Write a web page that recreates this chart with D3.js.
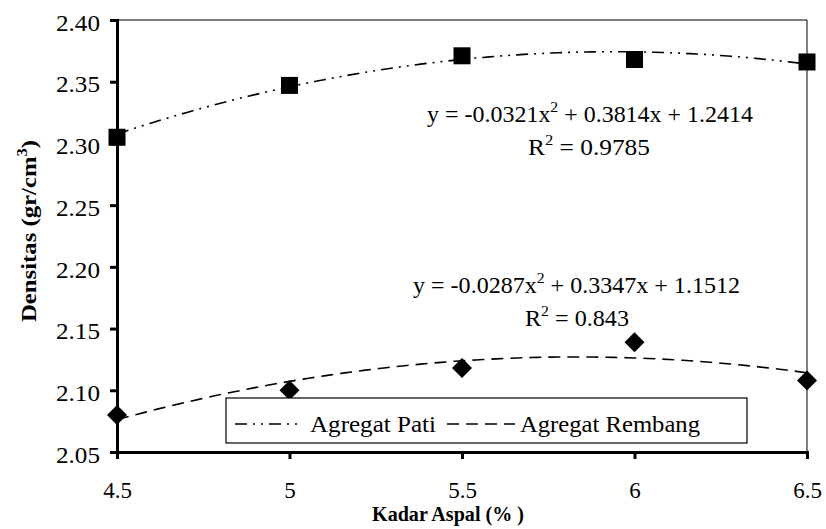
<!DOCTYPE html>
<html><head><meta charset="utf-8">
<script src="https://cdn.jsdelivr.net/npm/d3@7"></script>
<style>body{margin:0;background:#fff}</style>
</head><body><svg id="c" width="826" height="529"></svg>
<script>
const kadar = [4.5, 5, 5.5, 6, 6.5];
const pati = [2.305, 2.347, 2.371, 2.368, 2.366];
const rembang = [2.080, 2.100, 2.118, 2.139, 2.108];
const patiCoef = [-0.0321, 0.3814, 1.2414];
const rembangCoef = [-0.0287, 0.3347, 1.1512];
const yTicks = [2.05, 2.10, 2.15, 2.20, 2.25, 2.30, 2.35, 2.40];
const xTicks = [4.5, 5, 5.5, 6, 6.5];

const FONT = "'Liberation Serif', 'Times New Roman', 'DejaVu Serif', serif";
const svg = d3.select("#c");
const L = 117, R = 807, T = 20, B = 452;
const x = d3.scaleLinear().domain([4.5, 6.5]).range([L, R]);
const y = d3.scaleLinear().domain([2.05, 2.40]).range([B, T]);

svg.append("line").attr("x1", L).attr("x2", R).attr("y1", T).attr("y2", T).attr("stroke", "#000").attr("stroke-width", 1);
svg.append("line").attr("x1", R).attr("x2", R).attr("y1", T).attr("y2", B).attr("stroke", "#000").attr("stroke-width", 1);

const yAxis = svg.append("g").attr("transform", `translate(${L},0)`)
  .call(d3.axisLeft(y).tickValues(yTicks).tickFormat(d3.format(".2f")).tickSize(7).tickPadding(10));
const xAxis = svg.append("g").attr("transform", `translate(0,${B})`)
  .call(d3.axisBottom(x).tickValues(xTicks).tickFormat(d => String(d)).tickSize(7).tickPadding(23));
[yAxis, xAxis].forEach(g => {
  g.attr("font-family", null).style("font-family", FONT);
  g.select(".domain").attr("stroke-width", 3).attr("stroke", "#000");
  g.selectAll(".tick line").attr("stroke-width", 3).attr("stroke", "#000");
  g.selectAll(".tick text").style("font-family", FONT).attr("font-size", 23).attr("fill", "#000");
});
yAxis.selectAll(".tick text").attr("dy", "0.62em").attr("y", -4).attr("textLength", 44).attr("lengthAdjust", "spacingAndGlyphs");

function trend(c) {
  const pts = d3.range(0, 101).map(i => 4.5 + i * 0.02);
  return pts.map(v => [v, c[0] * v * v + c[1] * v + c[2]]);
}
const line = d3.line().x(d => x(d[0])).y(d => y(d[1]));
const dashPati = "12,6,2,6,2,6";
const dashReb = "12,7";
svg.append("path").attr("d", line(trend(patiCoef))).attr("fill", "none").attr("stroke", "#000").attr("stroke-width", 1.6).attr("stroke-dasharray", dashPati);
svg.append("path").attr("d", line(trend(rembangCoef))).attr("fill", "none").attr("stroke", "#000").attr("stroke-width", 1.6).attr("stroke-dasharray", dashReb);

svg.selectAll("rect.pm").data(kadar).enter().append("rect").attr("class", "pm")
  .attr("x", (d) => x(d) - 8.5).attr("y", (d, i) => y(pati[i]) - 8.5).attr("width", 17).attr("height", 17).attr("fill", "#000");
svg.selectAll("path.rm").data(kadar).enter().append("path").attr("class", "rm")
  .attr("transform", (d, i) => `translate(${x(d)},${y(rembang[i])})`)
  .attr("d", "M0,-10L10,0L0,10L-10,0Z").attr("fill", "#000");

function txt(xp, yp, size) {
  return svg.append("text").attr("x", xp).attr("y", yp).attr("font-size", size).attr("fill", "#000").style("font-family", FONT);
}
function eq(xs, xe, yb, a, b, c, r2, rx, rw) {
  const t = txt(xs, yb, 23).attr("textLength", xe - xs).attr("lengthAdjust", "spacingAndGlyphs");
  t.append("tspan").text(`y = ${a}x`);
  t.append("tspan").attr("font-size", 15).attr("dy", -10).text("2");
  t.append("tspan").attr("dy", 10).text(` + ${b}x + ${c}`);
  const t2 = txt(rx, yb + 33, 23).attr("textLength", rw).attr("lengthAdjust", "spacingAndGlyphs");
  t2.append("tspan").text("R");
  t2.append("tspan").attr("font-size", 15).attr("dy", -10).text("2");
  t2.append("tspan").attr("dy", 10).text(` = ${r2}`);
}
eq(427, 753, 122, "-0.0321", "0.3814", "1.2414", "0.9785", 528, 122);
eq(413, 740, 293, "-0.0287", "0.3347", "1.1512", "0.843", 525, 104);

svg.append("rect").attr("x", 226).attr("y", 398).attr("width", 521).attr("height", 45).attr("fill", "#fff").attr("stroke", "#000").attr("stroke-width", 1.2);
svg.append("line").attr("x1", 235).attr("x2", 302).attr("y1", 424).attr("y2", 424).attr("stroke", "#000").attr("stroke-width", 1.6).attr("stroke-dasharray", dashPati);
txt(310, 432, 23).attr("textLength", 126).attr("lengthAdjust", "spacingAndGlyphs").text("Agregat Pati");
svg.append("line").attr("x1", 447).attr("x2", 515).attr("y1", 424).attr("y2", 424).attr("stroke", "#000").attr("stroke-width", 1.6).attr("stroke-dasharray", dashReb);
txt(520, 432, 23).attr("textLength", 180).attr("lengthAdjust", "spacingAndGlyphs").text("Agregat Rembang");

txt(372, 521, 20).attr("font-weight", "bold").attr("textLength", 152).attr("lengthAdjust", "spacingAndGlyphs").text("Kadar Aspal (% )");
const yt = svg.append("text").attr("transform", "translate(36,322) rotate(-90)").attr("font-size", 21).attr("font-weight", "bold").style("font-family", FONT)
  .attr("textLength", 182).attr("lengthAdjust", "spacingAndGlyphs");
yt.append("tspan").text("Densitas (gr/cm");
yt.append("tspan").attr("font-size", 14).attr("dy", -9).text("3");
yt.append("tspan").attr("dy", 9).text(")");
</script></body></html>
